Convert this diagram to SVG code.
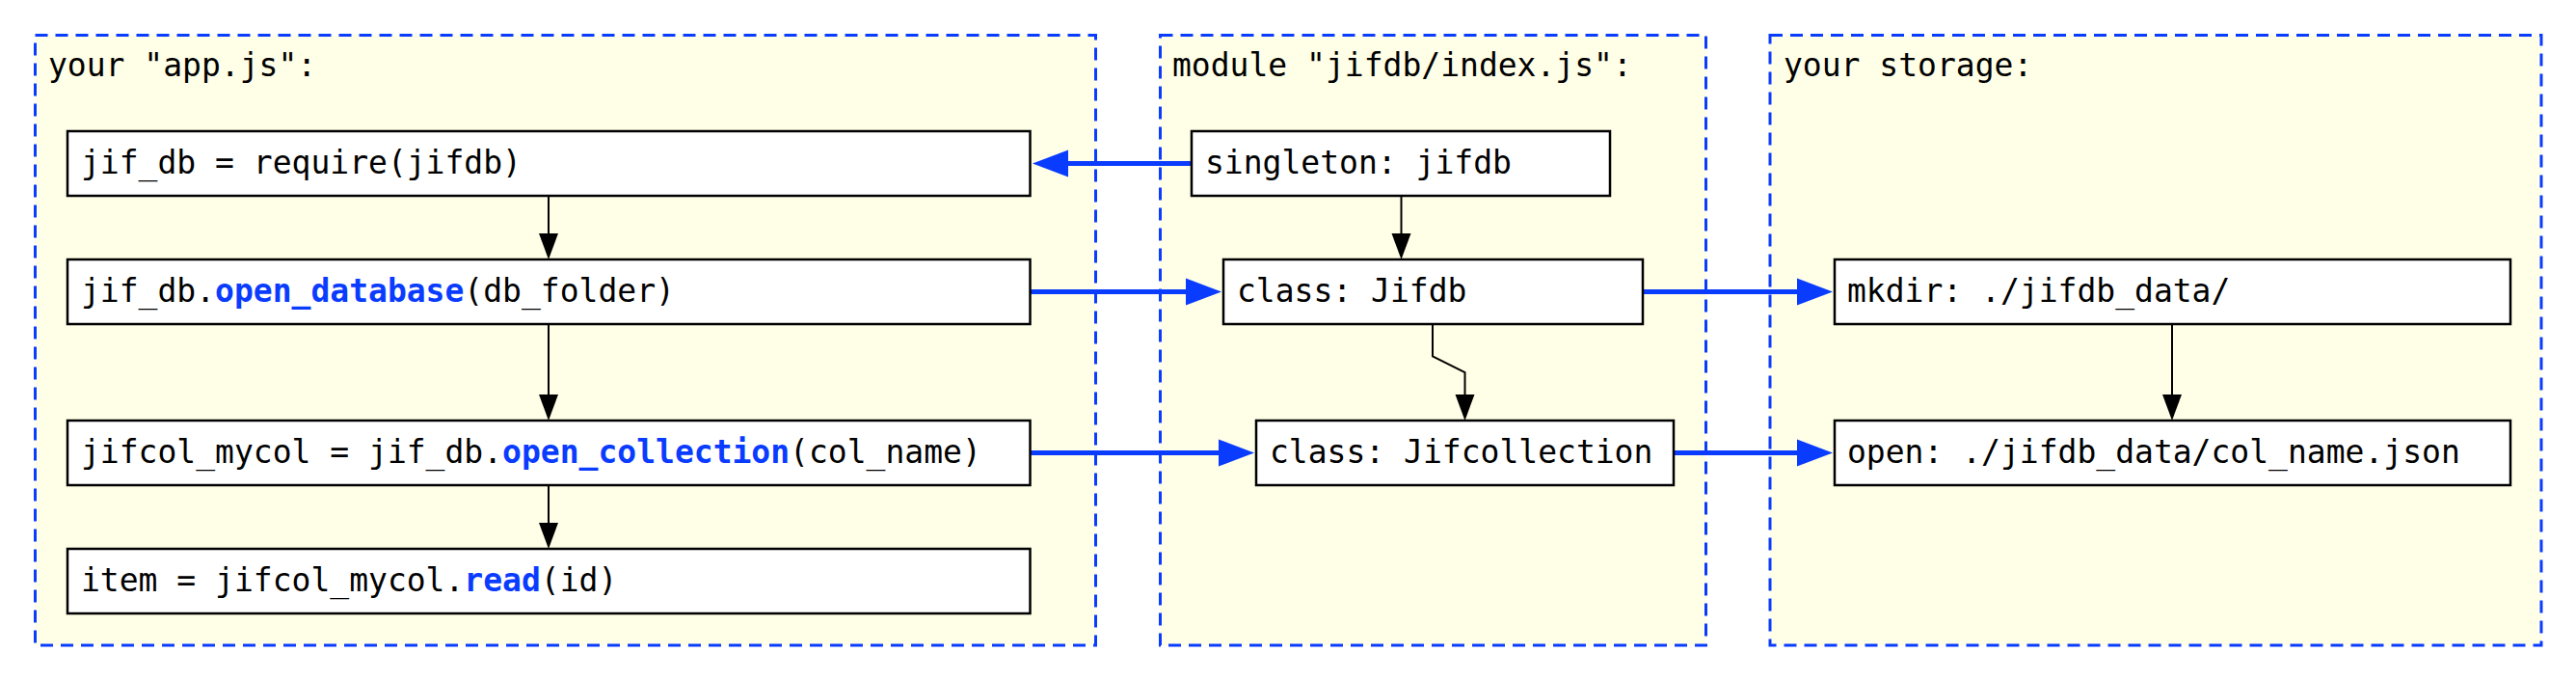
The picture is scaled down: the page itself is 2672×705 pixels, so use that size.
<svg xmlns="http://www.w3.org/2000/svg" width="2672" height="705" viewBox="0 0 2672 705">
<style>
.cont{fill:#fffee6;stroke:#0a3cff;stroke-width:3;stroke-dasharray:13 8}
.box{fill:#ffffff;stroke:#000000;stroke-width:2.5}
text{font-family:"DejaVu Sans Mono","Liberation Mono",monospace;font-size:33px;fill:#000000}
.hl{fill:#0a3cff;font-weight:bold}
.blk{fill:none;stroke:#000000;stroke-width:2}
.blu{fill:none;stroke:#0a3cff;stroke-width:5;stroke-linecap:round}
</style>
<defs>
<marker id="ab" markerUnits="userSpaceOnUse" markerWidth="30" markerHeight="24" viewBox="0 -12 30 24" refX="0" refY="0" orient="auto">
<path d="M0,-10 L27,0 L0,10 z" fill="#000000"/>
</marker>
<marker id="au" markerUnits="userSpaceOnUse" markerWidth="40" markerHeight="32" viewBox="0 -16 40 32" refX="0" refY="0" orient="auto">
<path d="M0,-14 L37,0 L0,14 z" fill="#0a3cff"/>
</marker>
</defs>
<g id="containers">
<g id="app">
<rect class="cont" x="36.5" y="36.5" width="1100" height="632.5"/>
<text x="50" y="79">your "app.js":</text>
</g>
<g id="module">
<rect class="cont" x="1203.5" y="36.5" width="566" height="632.5"/>
<text x="1216" y="79">module "jifdb/index.js":</text>
</g>
<g id="storage">
<rect class="cont" x="1836" y="36.5" width="800" height="632.5"/>
<text x="1850" y="79">your storage:</text>
</g>
</g>
<g id="connectors">
<line class="blk" x1="569" y1="203" x2="569" y2="242" marker-end="url(#ab)"/>
<line class="blk" x1="569" y1="336" x2="569" y2="409" marker-end="url(#ab)"/>
<line class="blk" x1="569" y1="503" x2="569" y2="542" marker-end="url(#ab)"/>
<line class="blk" x1="1453.5" y1="203" x2="1453.5" y2="242" marker-end="url(#ab)"/>
<path class="blk" d="M1486,336 V369.5 L1519.5,386 V409" marker-end="url(#ab)"/>
<line class="blk" x1="2253" y1="336" x2="2253" y2="409" marker-end="url(#ab)"/>
<line class="blu" x1="1236" y1="169.5" x2="1108" y2="169.5" marker-end="url(#au)"/>
<line class="blu" x1="1069" y1="302.5" x2="1230" y2="302.5" marker-end="url(#au)"/>
<line class="blu" x1="1069" y1="469.5" x2="1264" y2="469.5" marker-end="url(#au)"/>
<line class="blu" x1="1704" y1="302.5" x2="1864" y2="302.5" marker-end="url(#au)"/>
<line class="blu" x1="1736" y1="469.5" x2="1864" y2="469.5" marker-end="url(#au)"/>
</g>
<g id="n_require">
<rect class="box" x="70" y="136" width="998.5" height="67"/>
<text x="84" y="180">jif_db = require(jifdb)</text>
</g>
<g id="n_open_database">
<rect class="box" x="70" y="269" width="998.5" height="67"/>
<text x="84" y="313">jif_db.<tspan class="hl">open_database</tspan>(db_folder)</text>
</g>
<g id="n_open_collection">
<rect class="box" x="70" y="436" width="998.5" height="67"/>
<text x="84" y="480">jifcol_mycol = jif_db.<tspan class="hl">open_collection</tspan>(col_name)</text>
</g>
<g id="n_read">
<rect class="box" x="70" y="569" width="998.5" height="67"/>
<text x="84" y="613">item = jifcol_mycol.<tspan class="hl">read</tspan>(id)</text>
</g>
<g id="n_singleton">
<rect class="box" x="1236" y="136" width="434" height="67"/>
<text x="1250" y="180">singleton: jifdb</text>
</g>
<g id="n_jifdb">
<rect class="box" x="1269" y="269" width="435" height="67"/>
<text x="1283" y="313">class: Jifdb</text>
</g>
<g id="n_jifcollection">
<rect class="box" x="1303" y="436" width="433" height="67"/>
<text x="1317" y="480">class: Jifcollection</text>
</g>
<g id="n_mkdir">
<rect class="box" x="1903" y="269" width="701" height="67"/>
<text x="1916" y="313">mkdir: ./jifdb_data/</text>
</g>
<g id="n_open">
<rect class="box" x="1903" y="436" width="701" height="67"/>
<text x="1916" y="480">open: ./jifdb_data/col_name.json</text>
</g>
</svg>
